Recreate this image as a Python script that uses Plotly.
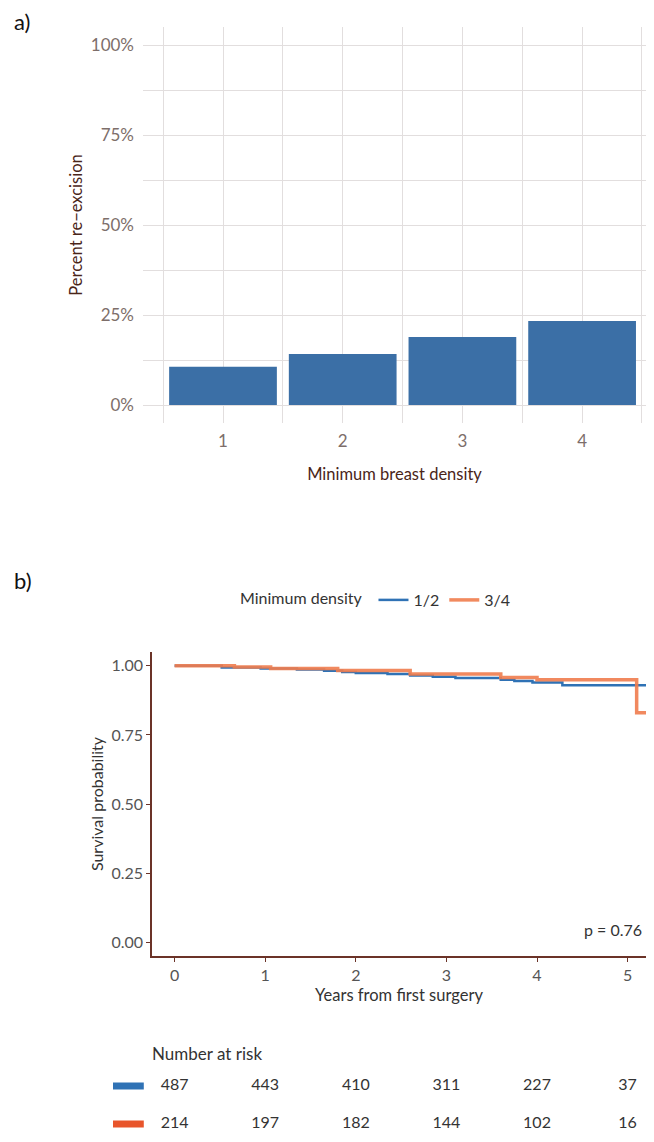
import plotly.graph_objects as go

# ---------------- data ----------------
density_categories = [1, 2, 3, 4]
pct_reexcision = [0.106, 0.142, 0.189, 0.233]
pct_ticks = [0, 0.25, 0.5, 0.75, 1.0]
pct_ticktext = ["0%", "25%", "50%", "75%", "100%"]

km_12_time = [0, 0.52, 0.95, 1.35, 1.65, 1.85, 2.0, 2.35, 2.6, 2.85, 3.1, 3.6, 3.75, 3.95, 4.28, 5.29]
km_12_surv = [1.000, 0.994, 0.990, 0.987, 0.982, 0.978, 0.974, 0.970, 0.965, 0.960, 0.956, 0.950, 0.945, 0.940, 0.930, 0.930]

km_34_time = [0, 0.66, 1.06, 1.8, 2.6, 3.6, 4.0, 5.10, 5.25]
km_34_surv = [1.000, 0.996, 0.990, 0.983, 0.970, 0.958, 0.950, 0.830, 0.830]

years_ticks = [0, 1, 2, 3, 4, 5]
surv_ticks = [0, 0.25, 0.5, 0.75, 1.0]
risk_12 = [487, 443, 410, 311, 227, 37]
risk_34 = [214, 197, 182, 144, 102, 16]
p_value_text = "p = 0.76"

BLUE_BAR = "#3b6fa6"
BLUE = "#2f72b5"
ORANGE = "#f07d4e"
ORANGE_SW = "#e8552b"
FONT = "Lato"

# the page has an 8px body margin: figure placed at (8, 8); keep the page free of scrollbars
OFF = 8
W, H = 654 - 2 * OFF, 1142 - 2 * OFF
RIGHT = OFF + W  # right edge of the drawable area in page pixels


def px_x(p):
    return (p - OFF) / W


def px_y(p):
    return 1 - (p - OFF) / H


# panel a x scale: category 1 at 223px, 119.7px per category
xa_l, xa_r = 143, RIGHT
xa_range = [1 + (xa_l - 223) / 119.7, 1 + (xa_r - 223) / 119.7]
# panel b x scale: year 0 at 174.6px, 90.6px per year
xb_l, xb_r = 152, RIGHT
xb_range = [(xb_l - 174.6) / 90.6, (xb_r - 174.6) / 90.6]
x3_range = [(OFF - 174.6) / 90.6, (RIGHT - 174.6) / 90.6]

# table axis: rows 1 and 2 placed 38px apart
T3, B3, ROW1, ROWSTEP = 1000, 1142 - OFF, 1086, 38
y3_top = 1 - (ROW1 - T3) / ROWSTEP
y3_bot = y3_top + (B3 - T3) / ROWSTEP

fig = go.Figure()

# ---------------- panel a ----------------
fig.add_trace(go.Bar(
    x=density_categories, y=pct_reexcision, width=0.9,
    marker=dict(color=BLUE_BAR, line=dict(width=0)),
    xaxis="x", yaxis="y", showlegend=False, hoverinfo="skip"))

# ---------------- panel b ----------------
fig.add_trace(go.Scatter(
    x=km_12_time, y=km_12_surv, mode="lines", line=dict(color=BLUE, width=2.5, shape="hv"),
    name="1/2", xaxis="x2", yaxis="y2"))
fig.add_trace(go.Scatter(
    x=km_34_time, y=km_34_surv, mode="lines", line=dict(color=ORANGE, width=3.5, shape="hv"),
    opacity=0.9, name="3/4", xaxis="x2", yaxis="y2"))

# number at risk table
fig.add_trace(go.Scatter(
    x=years_ticks, y=[1] * len(years_ticks), mode="text",
    text=[str(v) for v in risk_12], textfont=dict(size=16, color="#333333", family=FONT),
    xaxis="x3", yaxis="y3", showlegend=False, hoverinfo="skip"))
fig.add_trace(go.Scatter(
    x=years_ticks, y=[2] * len(years_ticks), mode="text",
    text=[str(v) for v in risk_34], textfont=dict(size=16, color="#333333", family=FONT),
    xaxis="x3", yaxis="y3", showlegend=False, hoverinfo="skip"))
fig.add_trace(go.Scatter(
    x=[-0.51, -0.51], y=[1, 2], mode="markers",
    marker=dict(symbol="line-ew", size=22, line=dict(width=7, color=[BLUE, ORANGE_SW])),
    xaxis="x3", yaxis="y3", showlegend=False, hoverinfo="skip"))

grid_c = "#e2dede"
axtitle_a = "#4a2519"
tick_a = "#7d6e6a"
line_b = "#6b3328"

fig.update_layout(
    width=W, height=H,
    margin=dict(l=0, r=0, t=0, b=0),
    paper_bgcolor="white", plot_bgcolor="white",
    font=dict(family=FONT, size=15, color="#333333"),
    xaxis=dict(
        domain=[px_x(xa_l), px_x(xa_r)], range=xa_range, anchor="y",
        tickvals=density_categories, ticktext=[str(c) for c in density_categories],
        showgrid=True, gridcolor=grid_c, gridwidth=1, zeroline=False, showline=False,
        ticks="", ticklabelstandoff=6,
        minor=dict(tickvals=[0.5, 1.5, 2.5, 3.5, 4.5], showgrid=True, gridcolor=grid_c, gridwidth=1, ticks=""),
        tickfont=dict(size=17, color=tick_a),
        title=dict(text="Minimum breast density", font=dict(size=16.5, color=axtitle_a), standoff=18),
    ),
    yaxis=dict(
        domain=[px_y(423), px_y(27)], range=[-0.05, 1.05], anchor="x",
        tickvals=pct_ticks, ticktext=pct_ticktext,
        showgrid=True, gridcolor=grid_c, gridwidth=1, zeroline=False, showline=False,
        ticks="", ticklabelstandoff=8,
        minor=dict(tickvals=[0.125, 0.375, 0.625, 0.875], showgrid=True, gridcolor=grid_c, gridwidth=1, ticks=""),
        tickfont=dict(size=17, color=tick_a),
        title=dict(text="Percent re\u2212excision", font=dict(size=16.5, color=axtitle_a), standoff=4),
    ),
    xaxis2=dict(
        domain=[px_x(xb_l), px_x(xb_r)], range=xb_range, anchor="y2",
        tickvals=years_ticks, showgrid=False, zeroline=False,
        showline=True, linecolor=line_b, linewidth=1.5,
        ticks="outside", ticklen=4, tickcolor=line_b, tickwidth=1.2,
        tickfont=dict(size=16, color="#555555"),
        title=dict(text="Years from first surgery", font=dict(size=16.5, color="#333333"), standoff=6),
    ),
    yaxis2=dict(
        domain=[px_y(956), px_y(652)], range=[-0.05, 1.05], anchor="x2",
        tickvals=surv_ticks, tickformat=".2f", showgrid=False, zeroline=False,
        showline=True, linecolor=line_b, linewidth=1.5,
        ticks="outside", ticklen=4, tickcolor=line_b, tickwidth=1.2,
        tickfont=dict(size=16, color="#555555"),
        title=dict(text="Survival probability", font=dict(size=16, color="#333333"), standoff=4),
    ),
    xaxis3=dict(domain=[0, 1], range=x3_range, anchor="y3", visible=False),
    yaxis3=dict(domain=[px_y(B3), px_y(T3)], range=[y3_bot, y3_top], anchor="x3", visible=False),
    legend=dict(
        orientation="h", x=px_x(238), xanchor="left", y=px_y(600), yanchor="middle",
        title=dict(text="Minimum density ", font=dict(size=16, color="#333333"), side="left"),
        font=dict(size=16, color="#333333"), itemwidth=30, bgcolor="rgba(0,0,0,0)",
    ),
    annotations=[
        dict(text="a)", x=px_x(12), y=px_y(22), xref="paper", yref="paper",
             xanchor="left", yanchor="middle", showarrow=False, font=dict(size=22, color="#111111")),
        dict(text="b)", x=px_x(12), y=px_y(580), xref="paper", yref="paper",
             xanchor="left", yanchor="middle", showarrow=False, font=dict(size=22, color="#111111")),
        dict(text=p_value_text, x=xb_range[1] - 0.02, y=0.045, xref="x2", yref="y2",
             xanchor="right", yanchor="middle", showarrow=False, font=dict(size=16, color="#333333")),
        dict(text="Number at risk", x=px_x(150), y=px_y(1053), xref="paper", yref="paper",
             xanchor="left", yanchor="middle", showarrow=False, font=dict(size=17, color="#333333")),
    ],
)

fig.write_html("out.html")
